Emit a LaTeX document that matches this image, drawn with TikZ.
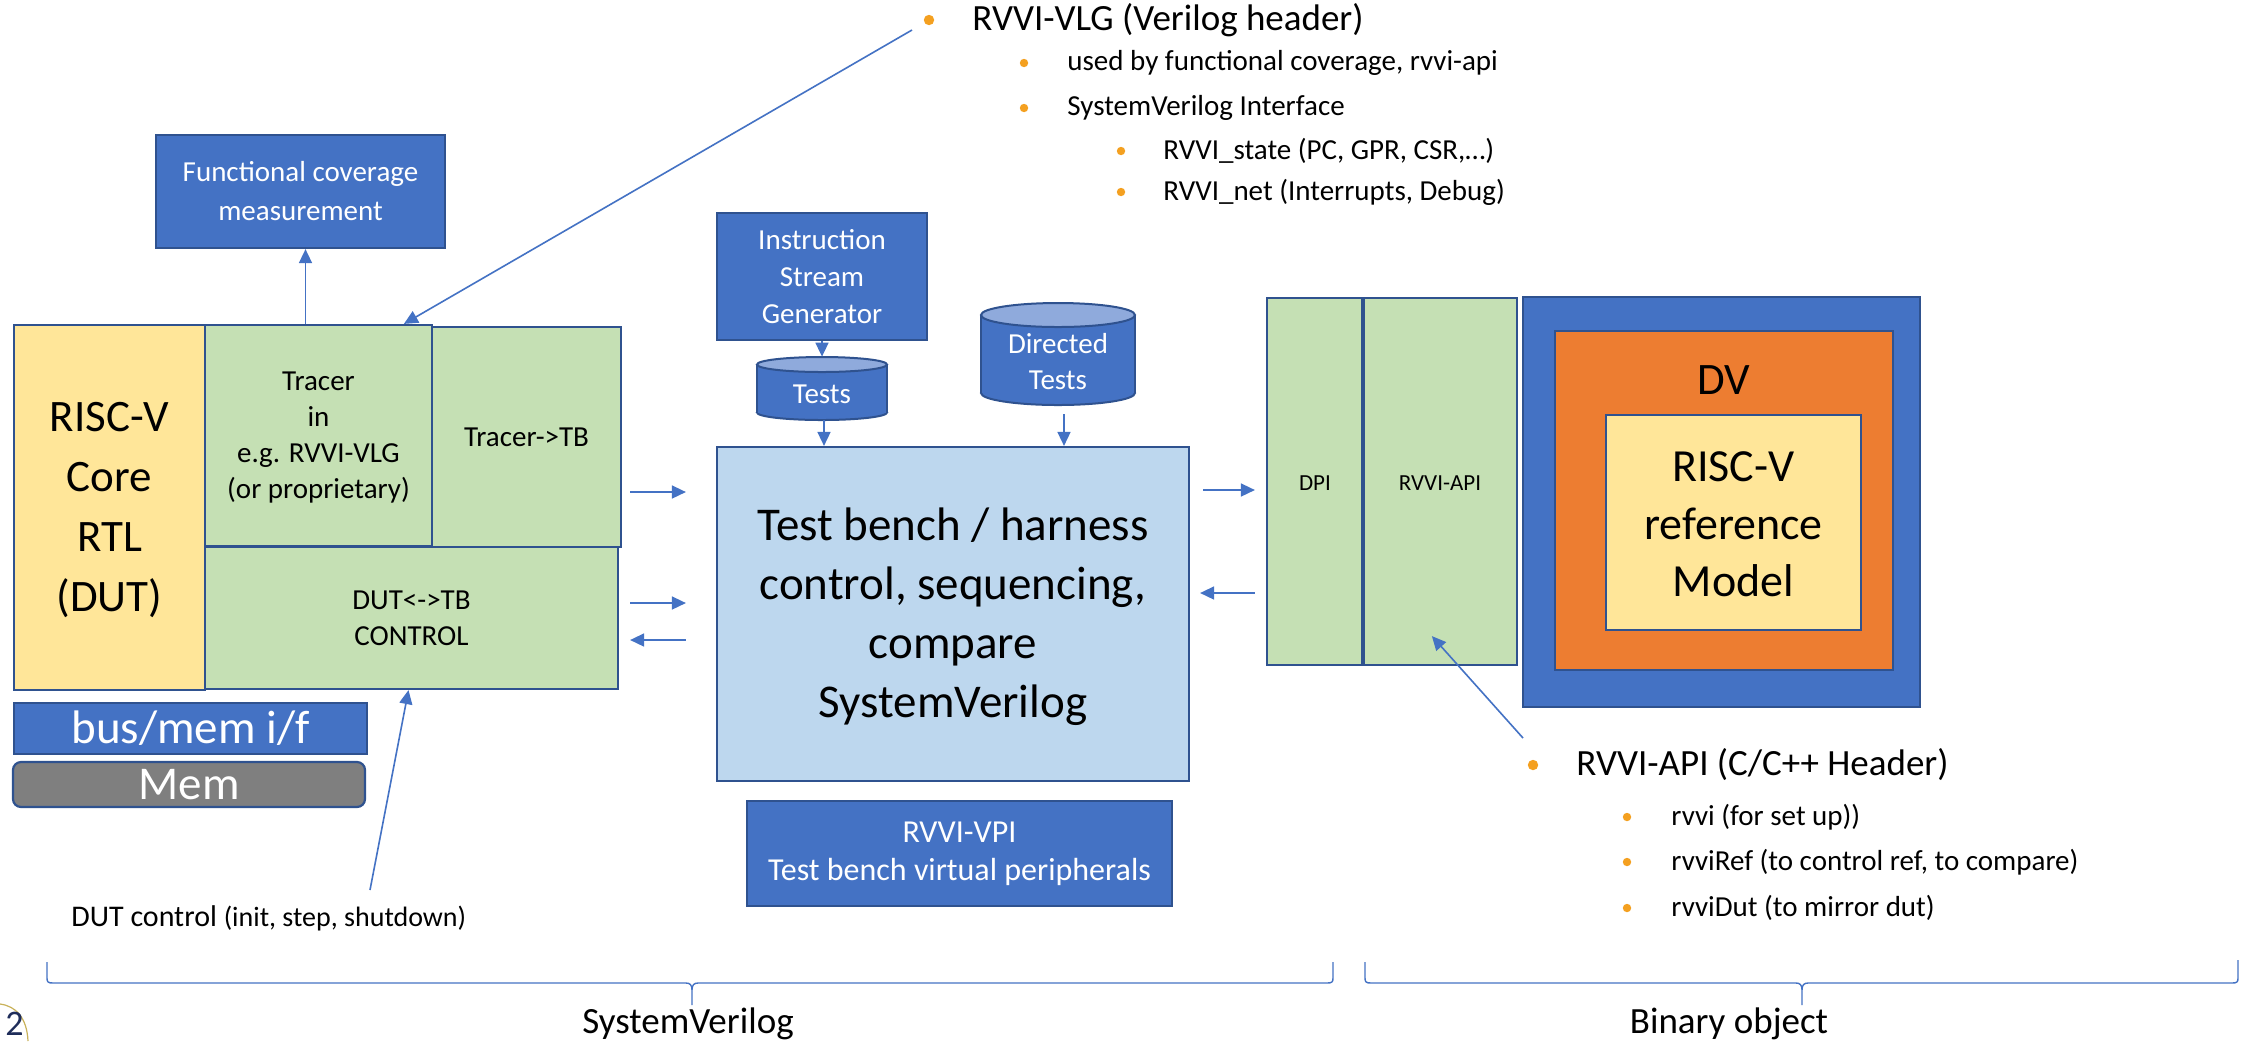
\documentclass[tikz,border=0pt]{standalone}
\usepackage{fontspec}
\setmainfont{Carlito}
\usetikzlibrary{arrows.meta,calc,fit}
\definecolor{cblue}{HTML}{4472C4}
\definecolor{cborder}{HTML}{2F528F}
\definecolor{cgreen}{HTML}{C5E0B4}
\definecolor{cyellow}{HTML}{FFE699}
\definecolor{clight}{HTML}{BDD7EE}
\definecolor{corange}{HTML}{ED7D31}
\definecolor{cgray}{HTML}{7F7F7F}
\definecolor{ccyltop}{HTML}{8FAADC}
\definecolor{cbullet}{HTML}{F4A020}
\definecolor{cnavy}{HTML}{1F2D5A}
\definecolor{cgold}{HTML}{C9B25A}
\begin{document}
\begin{tikzpicture}[x=0.5pt,y=-0.5pt,
  box/.style={draw=cborder,line width=1.1pt,inner sep=0pt},
  blueb/.style={box,fill=cblue},
  greenb/.style={box,fill=cgreen},
  lab/.style={inner sep=0pt,align=center},
  wlab/.style={lab,text=white},
  arr/.style={draw=cblue,line width=0.8pt,-{Triangle[length=7pt,width=6.5pt]}},
  ln/.style={draw=cblue,line width=0.8pt},
  fA/.style={font=\fontsize{14.5pt}{18pt}\selectfont},
  fB/.style={font=\fontsize{23.5pt}{29.5pt}\selectfont},
  txt/.style={inner sep=0pt,anchor=west},
  bul/.style={fill=cbullet},
  cylb/.style={fill=cblue,draw=cborder,line width=1pt},
  cyltop/.style={fill=ccyltop,draw=cborder,line width=1pt}
]
\useasboundingbox[fill=white] (0,0) rectangle (2248,1041);

% ---------- left side ----------
\node[blueb,fit={(156,135) (445,248)}] (fc) {};
\node[wlab,font=\fontsize{14.5pt}{19.5pt}\selectfont] (fct) at (fc.center) {Functional coverage\\measurement};
\node[box,fill=cyellow,fit={(14,325) (205,690)}] (core) {};
\node[lab,font=\fontsize{22.5pt}{30pt}\selectfont] (coret) at ($(core.center)+(0,3)$) {RISC-V\\Core\\RTL\\(DUT)};
\node[greenb,fit={(205,325) (432,546)}] (tracer) {};
\node[lab,fA] (tracert) at ($(tracer.center)+(0,2)$) {Tracer\\in\\e.g. RVVI-VLG\\(or proprietary)};
\node[greenb,fit={(432,327) (621,547)}] (tracertb) {};
\node[lab,fA] (tracertbt) at (tracertb.center) {Tracer->TB};
\node[greenb,fit={(205,547) (618,689)}] (dut) {};
\node[lab,fA] (dutt) at (dut.center) {DUT<->TB\\CONTROL};
\node[blueb,fit={(14,703) (367,754)}] (busmem) {};
\node[wlab,font=\fontsize{23.5pt}{23.5pt}\selectfont] (busmemt) at (busmem.center) {bus/mem i/f};
\node[box,fill=cgray,rounded corners=4pt,fit={(13,762) (365,807)}] (mem) {};
\node[wlab,font=\fontsize{23.5pt}{23.5pt}\selectfont] (memt) at (mem.center) {Mem};

% ---------- centre ----------
\node[blueb,fit={(717,213) (927,340)}] (isg) {};
\node[wlab,font=\fontsize{14.5pt}{18.5pt}\selectfont] (isgt) at (isg.center) {Instruction\\Stream\\Generator};
\node[inner sep=0pt,fit={(757,357) (887,420)}] (tests) {};
\filldraw[cylb] (822,412.5) ellipse [x radius=32.5pt, y radius=3.75pt];
\fill[cblue] (757,364.5) rectangle (887,412.5);
\draw[draw=cborder,line width=1pt] (757,364.5) -- (757,412.5) (887,364.5) -- (887,412.5);
\filldraw[cyltop] (822,364.5) ellipse [x radius=32.5pt, y radius=3.75pt];
\node[wlab,fA] (testst) at (822,394) {Tests};

\node[inner sep=0pt,fit={(981,303) (1135,405)}] (directed) {};
\filldraw[cylb] (1058,393) ellipse [x radius=38.5pt, y radius=6pt];
\fill[cblue] (981,315) rectangle (1135,393);
\draw[draw=cborder,line width=1pt] (981,315) -- (981,393) (1135,315) -- (1135,393);
\filldraw[cyltop] (1058,315) ellipse [x radius=38.5pt, y radius=6pt];
\node[wlab,font=\fontsize{14.5pt}{18pt}\selectfont] (directedt) at (1058,362) {Directed\\Tests};

\node[box,fill=clight,fit={(717,447) (1189,781)}] (tb) {};
\node[lab,fB] (tbt) at ($(tb.center)+(0,3)$) {Test bench / harness\\control, sequencing,\\compare\\SystemVerilog};
\node[blueb,fit={(747,801) (1172,906)}] (vpi) {};
\node[wlab,font=\fontsize{16pt}{19pt}\selectfont] (vpit) at (vpi.center) {RVVI-VPI\\Test bench virtual peripherals};

% ---------- right side ----------
\node[greenb,fit={(1267,298) (1362,665)}] (dpi) {};
\node[lab,font=\fontsize{11.5pt}{14pt}\selectfont] (dpit) at (1315,483) {DPI};
\node[greenb,fit={(1364,298) (1517,665)}] (api) {};
\node[lab,font=\fontsize{11.5pt}{14pt}\selectfont] (apit) at (1440,483) {RVVI-API};
\node[blueb,fit={(1523,297) (1920,707)}] (dvout) {};
\node[box,fill=corange,fit={(1555,331) (1893,670)}] (dvin) {};
\node[lab,font=\fontsize{22.5pt}{22.5pt}\selectfont] (dvt) at (1724,380) {DV};
\node[box,fill=cyellow,fit={(1606,415) (1861,630)}] (refm) {};
\node[lab,font=\fontsize{23pt}{28.75pt}\selectfont] (refmt) at ($(refm.center)+(0,2)$) {RISC-V\\reference\\Model};

% ---------- connectors ----------
\draw[arr] ([xshift=2.5pt]tracer.north -| fc.south) -- ([xshift=2.5pt]fc.south);
\coordinate (vlgend) at (912,30);
\draw[arr] (vlgend) -- ($(tracer.north west)+(200,0)$);
\draw[arr,shorten <=4pt,shorten >=15pt] (tracertb.east |- 0,492) -- (tb.west |- 0,492);
\draw[arr,shorten <=5.5pt,shorten >=15pt] (dut.east |- 0,603) -- (tb.west |- 0,603);
\draw[arr,shorten <=15pt,shorten >=5.5pt] (tb.west |- 0,640) -- (dut.east |- 0,640);
\draw[arr] (isg.south) -- (tests.north);
\draw[arr] ([xshift=1pt]tests.south) -- ([xshift=1pt]tests.south |- tb.north);
\draw[arr,shorten <=4.5pt] ([xshift=3pt]directed.south) -- ([xshift=3pt]directed.south |- tb.north);
\draw[arr,shorten <=6.5pt,shorten >=5.5pt] (tb.east |- 0,490) -- (dpi.west |- 0,490);
\draw[arr,shorten <=5.5pt,shorten >=5pt] (dpi.west |- 0,593) -- (tb.east |- 0,593);
\coordinate (dutctl) at (370,890);
\draw[arr] (dutctl) -- ($(dut.south)+(-3,0)$);
\coordinate (apiend) at (1523,738);
\draw[arr] (apiend) -- ($(api.south west)+(69,-30)$);

% ---------- bullet text top ----------
\fill[bul] (929,20) circle (2.6pt);
\node[txt,font=\fontsize{18.5pt}{18.5pt}\selectfont] (vlg) at (972,20) {RVVI-VLG (Verilog header)};
\fill[bul] (1024,63) circle (2.1pt);
\node[txt,fA] (vlg1) at (1067,63) {used by functional coverage, rvvi-api};
\fill[bul] (1024,108) circle (2.1pt);
\node[txt,fA] (vlg2) at (1067,108) {SystemVerilog Interface};
\fill[bul] (1121,151) circle (2.1pt);
\node[txt,fA] (vlg3) at (1163,151) {RVVI\_state (PC, GPR, CSR,…)};
\fill[bul] (1121,192) circle (2.1pt);
\node[txt,fA] (vlg4) at (1163,192) {RVVI\_net (Interrupts, Debug)};

% ---------- bullet text bottom right ----------
\fill[bul] (1533,765) circle (2.6pt);
\node[txt,font=\fontsize{18.5pt}{18.5pt}\selectfont] (apih) at (1576,765) {RVVI-API (C/C++ Header)};
\fill[bul] (1627,817) circle (2.1pt);
\node[txt,fA] (api1) at (1671,817) {rvvi (for set up))};
\fill[bul] (1627,862) circle (2.1pt);
\node[txt,fA] (api2) at (1671,862) {rvviRef (to control ref, to compare)};
\fill[bul] (1627,908) circle (2.1pt);
\node[txt,fA] (api3) at (1671,908) {rvviDut (to mirror dut)};

% ---------- DUT control label ----------
\node[txt] (dutctlt) at (71,918) {\fontsize{15pt}{18pt}\selectfont DUT control \fontsize{14pt}{18pt}\selectfont(init, step, shutdown)};

% ---------- braces ----------
\draw[ln,line width=0.7pt] (47,962) -- (47,978) .. controls (47,982) and (48,983) .. (53,983) -- (686,983)
  .. controls (690,983) and (692,985) .. (692,990) -- (692,1005)
  (692,990) .. controls (692,985) and (694,983) .. (698,983) -- (1327,983)
  .. controls (1332,983) and (1333,982) .. (1333,978) -- (1333,962);
\draw[ln,line width=0.7pt] (1365,962) -- (1365,978) .. controls (1365,982) and (1366,983) .. (1371,983) -- (1796,983)
  .. controls (1800,983) and (1802,985) .. (1802,990) -- (1802,1005)
  (1802,990) .. controls (1802,985) and (1804,983) .. (1808,983) -- (2232,983)
  .. controls (2237,983) and (2238,982) .. (2238,978) -- (2238,960);
\node[inner sep=0pt,font=\fontsize{18.5pt}{18.5pt}\selectfont] (svlab) at (688,1024) {SystemVerilog};
\node[inner sep=0pt,font=\fontsize{18.5pt}{18.5pt}\selectfont] (binlab) at (1729,1024) {Binary object};

% ---------- logo fragment ----------
\draw[cgold,line width=0.6pt] (0,1004) .. controls (16,1006) and (27,1018) .. (28,1041);
\node[inner sep=0pt,anchor=base west,text=cnavy,font=\fontsize{18pt}{18pt}\selectfont] (logo) at (5,1035) {2};
\end{tikzpicture}
\end{document}
